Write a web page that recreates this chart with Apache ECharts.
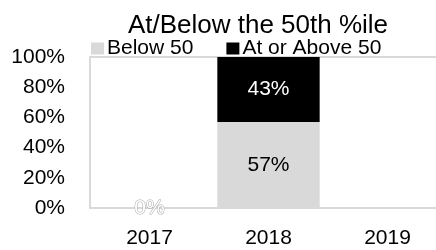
<!DOCTYPE html>
<html>
<head>
<meta charset="utf-8">
<script src="https://cdn.jsdelivr.net/npm/echarts@6/dist/echarts.min.js"></script>
<style>
  html, body { margin: 0; padding: 0; background: #fff; overflow: hidden; }
  #chart { width: 448px; height: 250px; }
</style>
</head>
<body>
<div id="chart"></div>
<script>
// the plot runs slightly past the right edge of the picture, so the canvas is a bit wider than the window
var myChart = echarts.init(document.getElementById('chart'));

// data
var years = ['2017', '2018', '2019'];
var below50 = [0, 57, null];
var aboveOr50 = [null, 43, null];
var fontName = '"Liberation Sans", Arial, sans-serif';
var frameLine = { show: true, lineStyle: { color: '#d9d9d9', width: 2 } };

var option = {
    backgroundColor: '#fff',
    textStyle: { fontFamily: fontName },
    title: {
        text: 'At/Below the 50th %ile',
        left: 253,
        textAlign: 'center',
        top: 8,
        textStyle: { fontFamily: fontName, fontSize: 26, fontWeight: 'normal', color: '#000' }
    },
    legend: {
        data: ['Below 50', 'At or Above 50'],
        left: 86,
        top: 33,
        itemWidth: 13,
        itemHeight: 12,
        itemGap: 33,
        icon: 'rect',
        textStyle: { fontFamily: fontName, fontSize: 21, color: '#000', padding: [0, 0, 0, -2] }
    },
    grid: {
        left: 90,
        top: 57,
        width: 357,
        height: 151
    },
    xAxis: [
        {
            type: 'category',
            data: years,
            axisLine: frameLine,
            axisTick: { show: false },
            axisLabel: { fontFamily: fontName, fontSize: 21, color: '#000', margin: 20 }
        },
        {
            // top edge of the plot frame
            type: 'category',
            position: 'top',
            data: years,
            axisLine: frameLine,
            axisTick: { show: false },
            axisLabel: { show: false }
        }
    ],
    yAxis: {
        type: 'value',
        min: 0,
        max: 100,
        interval: 20,
        splitLine: { show: false },
        axisLine: frameLine,
        axisTick: { show: false },
        axisLabel: { fontFamily: fontName, fontSize: 21, color: '#000', margin: 25, formatter: '{value}%' }
    },
    series: [
        {
            name: 'Below 50',
            type: 'bar',
            stack: 'total',
            barWidth: '86%',
            data: below50.map(function (v) {
                // the 0% label sits on the axis as outlined text
                if (v === 0) {
                    return {
                        value: v,
                        label: { color: '#fff', textBorderColor: '#a6a6a6', textBorderWidth: 1 }
                    };
                }
                return v;
            }),
            itemStyle: { color: '#d9d9d9' },
            label: {
                show: true,
                position: 'inside',
                formatter: '{c}%',
                fontFamily: fontName,
                fontSize: 21,
                color: '#000'
            }
        },
        {
            name: 'At or Above 50',
            type: 'bar',
            stack: 'total',
            barWidth: '86%',
            data: aboveOr50,
            itemStyle: { color: '#000' },
            label: {
                show: true,
                position: 'inside',
                formatter: '{c}%',
                fontFamily: fontName,
                fontSize: 21,
                color: '#fff'
            }
        }
    ]
};

myChart.setOption(option);
</script>
</body>
</html>
